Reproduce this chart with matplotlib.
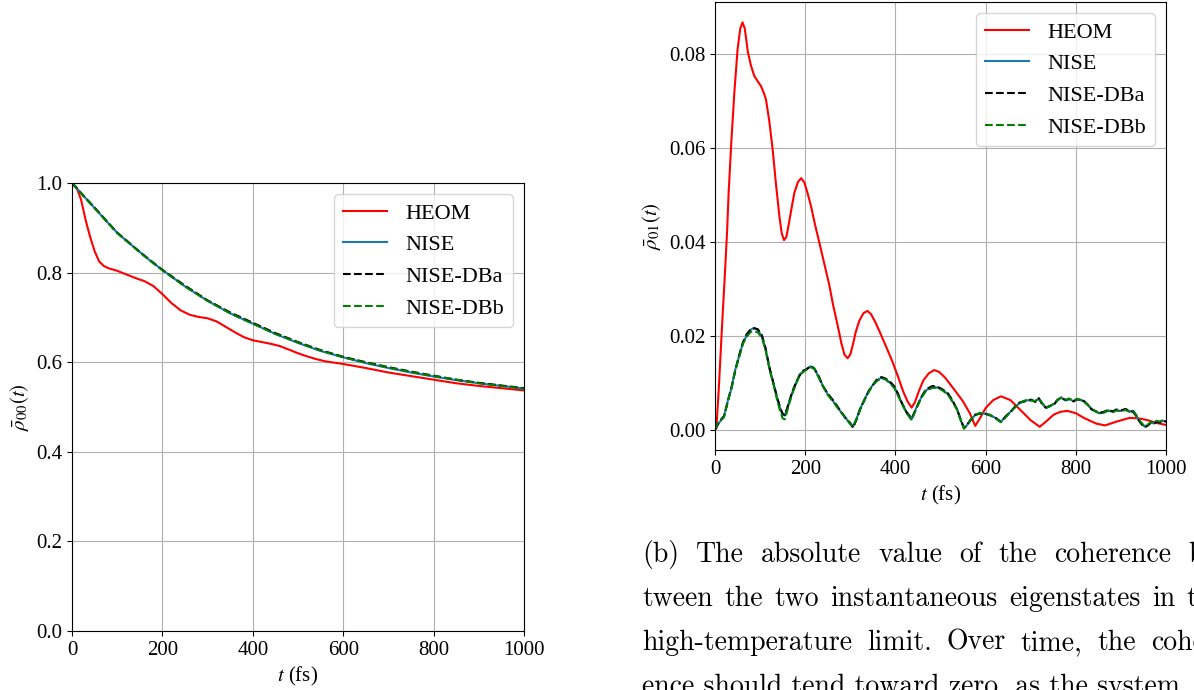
import matplotlib
matplotlib.use('Agg')
import matplotlib.pyplot as plt

# population of the lower eigenstate
heom00_t = [0, 10, 20, 30, 40, 50, 60, 70, 80, 100,
            120, 140, 160, 180, 200, 220, 240, 260, 280, 300,
            320, 340, 360, 380, 400, 420, 440, 460, 480, 500,
            520, 540, 560, 580, 600, 650, 700, 750, 800, 850,
            900, 950, 1000]
heom00 = [1.0, 0.99, 0.963, 0.918, 0.88, 0.848, 0.825, 0.815, 0.81, 0.804,
          0.796, 0.788, 0.781, 0.770, 0.752, 0.732, 0.716, 0.706, 0.701, 0.698,
          0.691, 0.679, 0.667, 0.656, 0.649, 0.645, 0.641, 0.636, 0.628, 0.620,
          0.613, 0.607, 0.602, 0.599, 0.596, 0.587, 0.577, 0.569, 0.561, 0.553,
          0.547, 0.542, 0.537]

nise00_t = [0, 25, 50, 75, 100, 125, 150, 175, 200, 250,
            300, 350, 400, 450, 500, 550, 600, 650, 700, 750,
            800, 850, 900, 950, 1000]
nise00 = [1.0, 0.972, 0.944, 0.916, 0.889, 0.867, 0.846, 0.825, 0.806, 0.769,
          0.737, 0.709, 0.686, 0.663, 0.643, 0.625, 0.611, 0.598, 0.587, 0.577,
          0.568, 0.560, 0.553, 0.547, 0.541]
dba00 = [1.0, 0.972, 0.945, 0.917, 0.889, 0.868, 0.846, 0.826, 0.806, 0.771,
         0.738, 0.711, 0.688, 0.665, 0.645, 0.627, 0.612, 0.600, 0.589, 0.579,
         0.570, 0.561, 0.554, 0.548, 0.542]
dbb00 = [1.0, 0.971, 0.944, 0.916, 0.888, 0.867, 0.845, 0.825, 0.805, 0.769,
         0.737, 0.709, 0.686, 0.663, 0.644, 0.626, 0.611, 0.599, 0.588, 0.578,
         0.569, 0.561, 0.553, 0.547, 0.541]

# coherence between the two eigenstates
heom01_t = [0, 3, 8, 15, 22, 27, 30, 36, 43, 50,
            56, 61, 66, 73, 80, 87, 95, 102, 108, 113,
            120, 128, 135, 143, 148, 153, 158, 163, 169, 176,
            184, 191, 198, 205, 213, 222, 231, 242, 253, 262,
            272, 280, 287, 294, 300, 306, 312, 320, 329, 338,
            346, 355, 364, 378, 393, 405, 417, 427, 436, 443,
            452, 462, 474, 486, 497, 510, 530, 550, 565, 577,
            588, 600, 617, 634, 655, 676, 700, 720, 735, 751,
            766, 781, 800, 818, 845, 865, 890, 919, 940, 960,
            980, 1000]
heom01 = [0.0, 0.0003, 0.008, 0.021, 0.0333, 0.0426, 0.050, 0.061, 0.072, 0.081,
          0.0855, 0.0868, 0.0855, 0.0804, 0.0775, 0.0754, 0.0742, 0.0732, 0.0718, 0.0704,
          0.066, 0.0596, 0.0525, 0.0453, 0.0418, 0.0404, 0.041, 0.0435, 0.0468, 0.0505,
          0.0528, 0.0536, 0.0527, 0.0505, 0.0476, 0.0436, 0.0400, 0.0355, 0.031, 0.0265,
          0.0222, 0.0185, 0.0160, 0.0152, 0.0160, 0.0182, 0.0208, 0.0232, 0.0248, 0.0253,
          0.0246, 0.0230, 0.0211, 0.0180, 0.0146, 0.0115, 0.0082, 0.0060, 0.0047, 0.0058,
          0.0082, 0.0105, 0.0120, 0.0127, 0.0123, 0.0111, 0.0086, 0.0060, 0.0035, 0.0008,
          0.0025, 0.0046, 0.0063, 0.0071, 0.0063, 0.0043, 0.0020, 0.0006, 0.0018, 0.0032,
          0.0038, 0.0040, 0.0035, 0.0025, 0.0013, 0.0009, 0.0017, 0.0025, 0.0024, 0.0020,
          0.0014, 0.0010]

nise01_t = [0, 6, 12, 20, 29, 37, 45, 54, 62, 70,
            79, 87, 95, 104, 112, 121, 130, 138, 145, 150,
            155, 163, 171, 180, 188, 196, 204, 212, 220, 230,
            239, 250, 264, 276, 289, 300, 306, 314, 322, 331,
            340, 348, 358, 369, 378, 388, 398, 406, 415, 425,
            436, 446, 457, 468, 482, 492, 504, 516, 527, 537,
            545, 552, 559, 566, 577, 587, 597, 608, 620, 634,
            645, 655, 665, 676, 690, 701, 710, 718, 726, 734,
            743, 752, 760, 768, 778, 785, 795, 802, 810, 818,
            827, 835, 845, 854, 862, 872, 882, 890, 900, 910,
            919, 927, 934, 940, 947, 953, 960, 967, 973, 979,
            986, 993, 1000]
nise01 = [0.0, 0.0012, 0.0018, 0.0028, 0.0064, 0.0090, 0.0128, 0.0158, 0.0185, 0.0200,
          0.0213, 0.0217, 0.0212, 0.0199, 0.0172, 0.0130, 0.0098, 0.0066, 0.0044, 0.0032,
          0.0030, 0.0055, 0.0078, 0.0100, 0.0118, 0.0124, 0.0130, 0.0135, 0.0131, 0.0112,
          0.0094, 0.0075, 0.0058, 0.0042, 0.0026, 0.0012, 0.0006, 0.0024, 0.0044, 0.0064,
          0.0080, 0.0093, 0.0104, 0.0111, 0.0108, 0.0100, 0.0090, 0.0074, 0.0056, 0.0036,
          0.0022, 0.0046, 0.0068, 0.0084, 0.0091, 0.0090, 0.0085, 0.0076, 0.0060, 0.0043,
          0.0020, 0.0003, 0.0010, 0.0020, 0.0031, 0.0035, 0.0034, 0.0032, 0.0026, 0.0017,
          0.0028, 0.0038, 0.0048, 0.0057, 0.0062, 0.0063, 0.0060, 0.0066, 0.0055, 0.0046,
          0.0050, 0.0055, 0.0063, 0.0068, 0.0062, 0.0065, 0.0061, 0.0064, 0.0063, 0.0060,
          0.0052, 0.0044, 0.0038, 0.0035, 0.0037, 0.0040, 0.0038, 0.0041, 0.0040, 0.0043,
          0.0039, 0.0040, 0.0030, 0.0020, 0.0012, 0.0006, 0.0010, 0.0016, 0.0013, 0.0018,
          0.0016, 0.0019, 0.0018]
dba01 = [0.0, 0.0010, 0.0020, 0.0029, 0.0062, 0.0092, 0.0126, 0.0160, 0.0186, 0.0203,
         0.0214, 0.0216, 0.0214, 0.0201, 0.0174, 0.0131, 0.0097, 0.0068, 0.0045, 0.0034,
         0.0031, 0.0054, 0.0080, 0.0101, 0.0116, 0.0126, 0.0129, 0.0136, 0.0130, 0.0114,
         0.0093, 0.0077, 0.0060, 0.0043, 0.0025, 0.0014, 0.0004, 0.0022, 0.0045, 0.0062,
         0.0081, 0.0092, 0.0106, 0.0112, 0.0109, 0.0102, 0.0092, 0.0076, 0.0055, 0.0037,
         0.0024, 0.0044, 0.0069, 0.0086, 0.0093, 0.0092, 0.0086, 0.0078, 0.0062, 0.0042,
         0.0021, 0.0004, 0.0011, 0.0019, 0.0032, 0.0034, 0.0035, 0.0031, 0.0027, 0.0016,
         0.0029, 0.0037, 0.0049, 0.0058, 0.0061, 0.0064, 0.0059, 0.0067, 0.0053, 0.0047,
         0.0051, 0.0054, 0.0064, 0.0067, 0.0063, 0.0066, 0.0060, 0.0065, 0.0064, 0.0061,
         0.0053, 0.0043, 0.0039, 0.0036, 0.0038, 0.0042, 0.0039, 0.0043, 0.0041, 0.0044,
         0.0040, 0.0038, 0.0029, 0.0019, 0.0010, 0.0005, 0.0009, 0.0015, 0.0012, 0.0017,
         0.0015, 0.0018, 0.0017]
dbb01 = [0.0, 0.0013, 0.0019, 0.0027, 0.0063, 0.0089, 0.0127, 0.0156, 0.0183, 0.0198,
         0.0208, 0.0210, 0.0207, 0.0196, 0.0170, 0.0128, 0.0095, 0.0062, 0.0038, 0.0024,
         0.0022, 0.0050, 0.0076, 0.0098, 0.0117, 0.0123, 0.0129, 0.0133, 0.0130, 0.0111,
         0.0093, 0.0074, 0.0057, 0.0041, 0.0025, 0.0012, 0.0007, 0.0023, 0.0043, 0.0063,
         0.0079, 0.0092, 0.0103, 0.0109, 0.0107, 0.0099, 0.0088, 0.0072, 0.0054, 0.0035,
         0.0020, 0.0044, 0.0067, 0.0083, 0.0089, 0.0089, 0.0084, 0.0075, 0.0059, 0.0042,
         0.0019, 0.0002, 0.0009, 0.0021, 0.0030, 0.0036, 0.0033, 0.0032, 0.0025, 0.0016,
         0.0027, 0.0038, 0.0047, 0.0058, 0.0063, 0.0062, 0.0061, 0.0067, 0.0056, 0.0047,
         0.0050, 0.0056, 0.0064, 0.0069, 0.0063, 0.0066, 0.0062, 0.0065, 0.0064, 0.0061,
         0.0052, 0.0045, 0.0038, 0.0034, 0.0036, 0.0041, 0.0037, 0.0041, 0.0039, 0.0042,
         0.0038, 0.0041, 0.0031, 0.0021, 0.0013, 0.0007, 0.0011, 0.0017, 0.0014, 0.0019,
         0.0017, 0.0020, 0.0019]

caption = [
    "(b) The absolute value of the coherence be-",
    "tween the two instantaneous eigenstates in the",
    "high-temperature limit. Over time, the coher-",
]
caption_last = "ence should tend toward zero, as the system"

plt.rcParams['font.family'] = 'serif'
plt.rcParams['font.serif'] = ['Liberation Serif', 'DejaVu Serif']
plt.rcParams['mathtext.fontset'] = 'stix'
plt.rcParams['font.size'] = 15

W, H = 1194, 690
fig = plt.figure(figsize=(W / 100, H / 100), dpi=100)
ax1 = fig.add_axes([72 / W, 1 - 631 / H, 452 / W, 448 / H])
ax2 = fig.add_axes([715 / W, 1 - 450 / H, 451 / W, 448 / H])


def draw(ax, th, h, tn, n, a, b):
    ax.plot(th, h, color='red', lw=1.5, label='HEOM')
    ax.plot(tn, n, color='#1f77b4', lw=1.5, label='NISE')
    ax.plot(tn, a, 'k--', lw=1.5, label='NISE-DBa')
    ax.plot(tn, b, 'g--', lw=1.5, label='NISE-DBb')
    ax.set_xlim(0, 1000)
    ax.set_xticks([0, 200, 400, 600, 800, 1000])
    ax.grid(True)
    ax.set_xlabel('$t$ (fs)')
    ax.legend(loc='upper right', fontsize=16)


draw(ax1, heom00_t, heom00, nise00_t, nise00, dba00, dbb00)
ax1.set_ylim(0, 1)
ax1.set_ylabel(r'$\bar{\rho}_{00}(t)$')

draw(ax2, heom01_t, heom01, nise01_t, nise01, dba01, dbb01)
ax2.set_yticks([0.0, 0.02, 0.04, 0.06, 0.08])
ax2.set_ylabel(r'$\bar{\rho}_{01}(t)$')


# justified caption lines below the right panel
def put_line(words, x0, x1, ybase, size):
    r = fig.canvas.get_renderer()
    texts = [fig.text(0, 1 - ybase / H, w, family='cmr10', fontsize=size,
                      va='baseline') for w in words]
    widths = [t.get_window_extent(r).width for t in texts]
    gap = (x1 - x0 - sum(widths)) / (len(words) - 1)
    x = x0
    for t, w in zip(texts, widths):
        t.set_x(x / W)
        x += w + gap


cap_size = 20
for i, line in enumerate(caption):
    put_line(line.split(), 642, 1225, 562 + 44 * i, cap_size)
fig.text(642 / W, 1 - (562 + 44 * 3) / H, caption_last, family='cmr10',
         fontsize=cap_size, va='baseline')

fig.savefig('out.png', dpi=100)
